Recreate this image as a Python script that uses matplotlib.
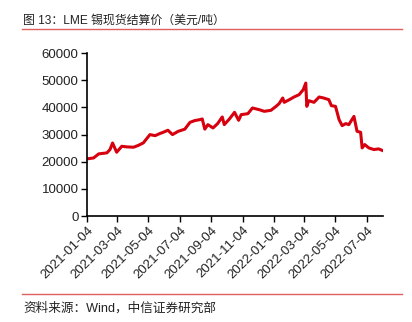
import matplotlib
matplotlib.use('Agg')
import matplotlib.pyplot as plt
import matplotlib.dates as mdates
import pandas as pd

# LME tin spot settlement price, USD/t
DATES = [
    '2021-01-04', '2021-01-17', '2021-01-27', '2021-02-12', '2021-02-18', '2021-02-23',
    '2021-03-03', '2021-03-13', '2021-03-23', '2021-04-05', '2021-04-14', '2021-04-24',
    '2021-05-07', '2021-05-17', '2021-05-26', '2021-06-02', '2021-06-11', '2021-06-20',
    '2021-07-01', '2021-07-14', '2021-07-24', '2021-08-02', '2021-08-12', '2021-08-17',
    '2021-08-22', '2021-08-28', '2021-09-07', '2021-09-16', '2021-09-25', '2021-09-29',
    '2021-10-09', '2021-10-19', '2021-10-27', '2021-11-01', '2021-11-14', '2021-11-23',
    '2021-12-06', '2021-12-16', '2021-12-29', '2022-01-08', '2022-01-14', '2022-01-21',
    '2022-01-24', '2022-02-03', '2022-02-12', '2022-02-22', '2022-03-02', '2022-03-07',
    '2022-03-09', '2022-03-13', '2022-03-23', '2022-04-02', '2022-04-11', '2022-04-21',
    '2022-04-26', '2022-05-04', '2022-05-11', '2022-05-17', '2022-05-24', '2022-05-30',
    '2022-06-09', '2022-06-15', '2022-06-22', '2022-06-25', '2022-06-30', '2022-07-08',
    '2022-07-18', '2022-07-27', '2022-08-04',
]
PRICES = [
    21060, 21400, 22900, 23270, 24500, 26900,
    23500, 25700, 25470, 25350, 26000, 26940,
    30000, 29600, 30370, 30860, 31600, 30000,
    31200, 32000, 34500, 35140, 35500, 35750,
    32000, 33670, 32450, 34040, 36500, 33670,
    35750, 38200, 35260, 37350, 37700, 39800,
    39180, 38570, 38940, 40400, 41400, 43470,
    41880, 42860, 43840, 44700, 46530, 48980,
    40400, 42490, 41880, 43840, 43470, 42860,
    40650, 40400, 35500, 33300, 34040, 33670,
    36700, 31220, 30860, 25100, 26330, 25100,
    24490, 24740, 24120,
]
TICK_DATES = ['2021-01-04', '2021-03-04', '2021-05-04', '2021-07-04', '2021-09-04',
              '2021-11-04', '2022-01-04', '2022-03-04', '2022-05-04', '2022-07-04']

TITLE = '图 13：LME 锡现货结算价（美元/吨）'
SOURCE = '资料来源：Wind，中信证券研究部'

FONTS = ['Liberation Sans', 'Noto Sans CJK SC', 'DejaVu Sans']
plt.rcParams['font.family'] = FONTS

RED = '#d7000f'
TEXT = '#222222'

fig = plt.figure(figsize=(4.12, 3.22), dpi=100)
ax = fig.add_axes([0.211, 0.329, 0.719, 0.506])

dates = pd.to_datetime(DATES)
ax.plot(dates, PRICES, color=RED, lw=2.2, solid_joinstyle='round')

ax.set_ylim(0, 60000)
ax.set_yticks(range(0, 60001, 10000))
ax.set_xlim(pd.Timestamp('2021-01-04'), pd.Timestamp('2022-08-05'))
ax.set_xticks(pd.to_datetime(TICK_DATES))
ax.xaxis.set_major_formatter(mdates.DateFormatter('%Y-%m-%d'))

for s in ['top', 'right']:
    ax.spines[s].set_visible(False)
for s in ['left', 'bottom']:
    ax.spines[s].set_linewidth(1.2)
    ax.spines[s].set_color('black')

ax.tick_params(axis='both', direction='out', length=4, width=1, labelsize=9.5,
               labelcolor=TEXT, pad=2)
for lab in ax.get_xticklabels():
    lab.set_rotation(45)
    lab.set_ha('right')
    lab.set_rotation_mode('anchor')

# header and footer with red rules
fig.text(0.056, 0.937, TITLE, fontsize=8.6, color=TEXT, va='center', ha='left')
fig.add_artist(plt.Line2D([0.053, 0.975], [0.909, 0.909], color='#e06060', lw=1.0,
                          transform=fig.transFigure))
fig.add_artist(plt.Line2D([0.053, 0.975], [0.088, 0.088], color='#e06060', lw=1.0,
                          transform=fig.transFigure))
fig.text(0.056, 0.041, SOURCE, fontsize=9.1, color=TEXT, va='center', ha='left')

fig.savefig('out.png', dpi=100)
